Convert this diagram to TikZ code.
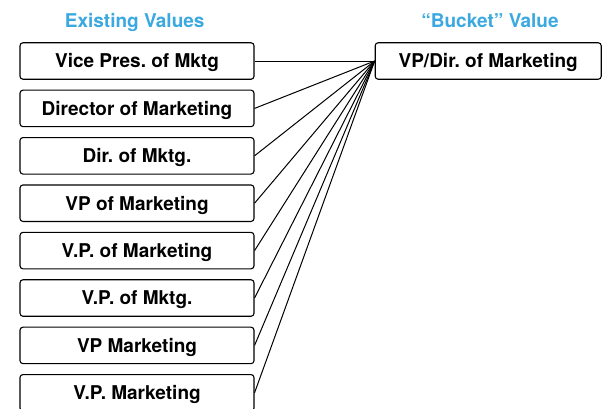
\documentclass[tikz,border=0pt]{standalone}
\usepackage{fontspec}
\setmainfont{TeX Gyre Heros}
\usepackage{tikz}
\frenchspacing
\definecolor{headblue}{RGB}{59,169,224}
\tikzset{
        valnode/.style = {rectangle, rounded corners=3bp, draw=black, line width=1.1bp,
            fill=white, align=center, inner sep=0pt, text centered,
            font=\fontsize{19bp}{22bp}\selectfont\bfseries,
            minimum width=234bp, minimum height=36.5bp,
            text height=13.6bp, text depth=0bp},
        bucketnode/.style = {valnode, minimum width=226bp},
        headnode/.style = {anchor=base, inner sep=0pt, headblue,
            font=\fontsize{19bp}{22bp}\selectfont\bfseries}
    }
\begin{document}
\begin{tikzpicture}[x=1bp,y=-1bp]
    \useasboundingbox (0,0) rectangle (602,408);
    \node [headnode] (headL) at (134.7,27.6) {Existing Values};
    \node [headnode] (headR) at (490,27.6) {``Bucket'' Value};
    \node [bucketnode] (bucket) at (488.2,61) {VP/Dir. of Marketing}; % BUCKET
    \foreach \txt [count=\i] in {Vice Pres. of Mktg, Director of Marketing,
            Dir. of Mktg., VP of Marketing, V.P. of Marketing, V.P. of Mktg.,
            VP Marketing, V.P. Marketing}
        \node [valnode] (v\i) at (137,{61+(\i-1)*47.4}) {\txt};
    \foreach \i in {1,...,8}
        \draw [line width=1bp] (v\i.east) -- (bucket.west);
\end{tikzpicture}
\end{document}
